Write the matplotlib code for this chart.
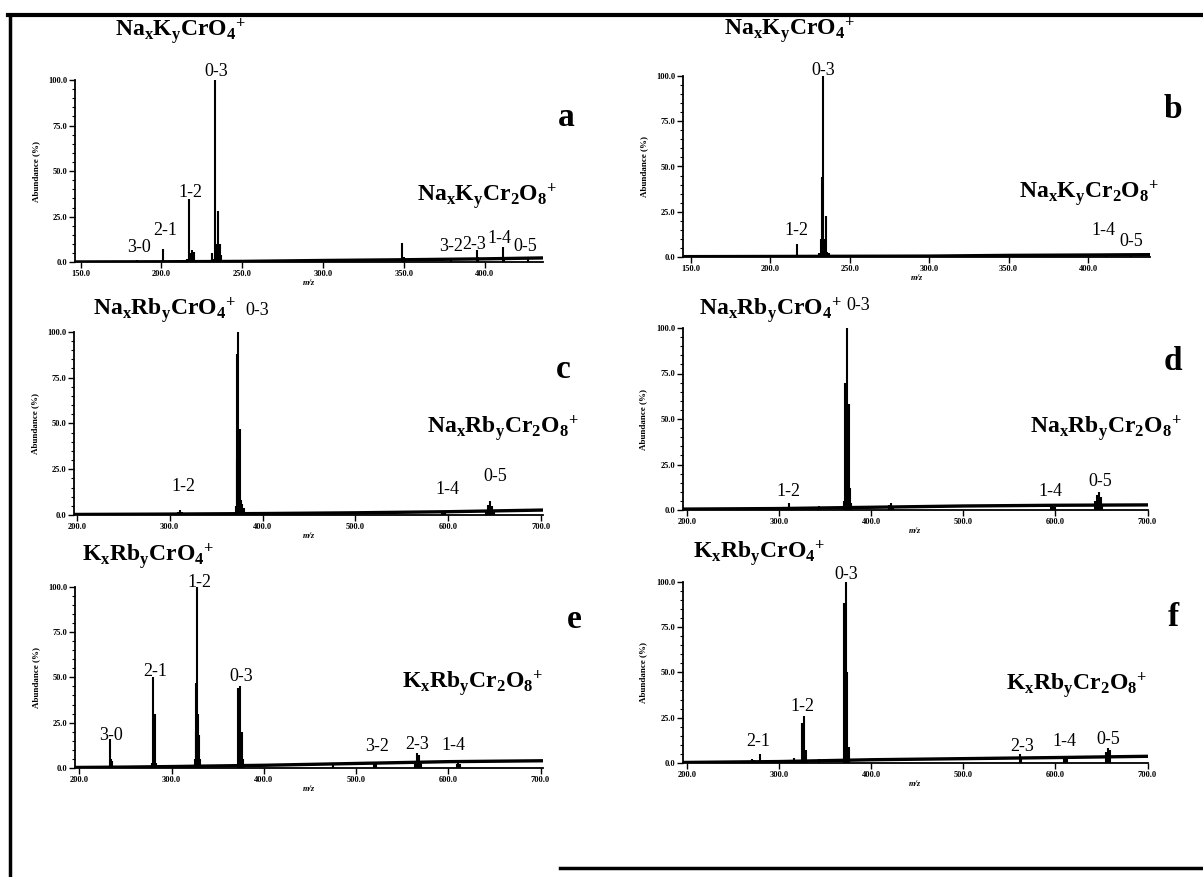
import numpy as np
import matplotlib
matplotlib.use("Agg")
import matplotlib.pyplot as plt
from matplotlib.lines import Line2D
from matplotlib.ticker import MultipleLocator, AutoMinorLocator, FormatStrFormatter

plt.rcParams['font.family'] = ['Liberation Serif', 'DejaVu Serif']
plt.rcParams['mathtext.fontset'] = 'custom'
plt.rcParams['mathtext.rm'] = 'Liberation Serif:bold'
plt.rcParams['mathtext.it'] = 'Liberation Serif:bold'
plt.rcParams['mathtext.bf'] = 'Liberation Serif:bold'

W, H = 1203, 877

# ---- данные: пики (m/z, относительная интенсивность %) ----
# a: NaxKyCrO4+ (спектр 1)
a_mz = [185, 201, 215, 216, 217, 218, 219, 220, 231, 232, 233, 234, 235, 236, 237,
        349, 350, 379, 395, 396, 411, 412, 427]
a_int = [1.0, 7.5, 1.5, 2.0, 34.5, 5.0, 7.0, 5.5, 5.0, 2.0, 100, 10, 28, 10, 4,
         10.8, 3.0, 1.5, 6.8, 3.0, 8.2, 3.0, 2.0]
a_base_mz = [146.5, 200, 250, 300, 350, 400, 436]
a_base = [0.2, 0.3, 0.5, 1.0, 1.4, 1.9, 2.4]

# b: NaxKyCrO4+ (спектр 2)
b_mz = [217, 218, 219, 231, 232, 232.7, 233, 234, 235, 236, 237, 411, 427]
b_int = [7.4, 1.0, 1.2, 2.0, 10, 44, 100, 10, 22.4, 3.0, 2.0, 1.0, 1.0]
b_base_mz = [145.3, 200, 250, 300, 350, 400, 439]
b_base = [0.2, 0.3, 0.4, 0.5, 0.9, 1.1, 1.3]

# c: NaxRbyCrO4+
c_mz = [309, 311, 313, 371, 372, 373, 374, 375, 376, 377, 378, 380,
        593, 595, 597, 641, 643, 645, 647, 649]
c_int = [1.5, 2.5, 1.5, 5, 88, 30, 100, 20, 47, 8, 6, 4,
         1.5, 2.0, 1.5, 3.0, 5.5, 7.5, 5.0, 2.5]
c_base_mz = [197, 300, 400, 500, 600, 702]
c_base = [0.3, 0.5, 0.8, 1.2, 1.8, 2.7]

# d: NaxRbyCrO4+
d_mz = [310, 312, 343, 370, 371, 372, 374, 375, 376, 377, 378,
        419, 421, 423, 595, 597, 599, 643, 645, 647, 649, 651]
d_int = [4.0, 1.5, 2.0, 5, 70, 20, 100, 30, 58, 12, 4,
         3.0, 4.0, 1.5, 2.0, 2.5, 1.5, 5, 8, 10, 7, 3]
d_base_mz = [195, 300, 400, 500, 600, 700.5]
d_base = [0.5, 0.8, 1.5, 2.2, 2.6, 2.8]

# e: KxRbyCrO4+
e_mz = [233, 234, 235, 279, 280, 281, 282, 283, 325, 326, 327, 328, 329, 330, 331,
        372, 373, 374, 375, 376, 377, 475, 520, 521, 522, 564, 566, 568, 570,
        609, 611, 613]
e_int = [16, 5, 4, 3, 50, 3, 30, 3, 5, 47, 20, 100, 30, 18, 5,
         44, 30, 45, 20, 20, 5, 1.5, 2.5, 3.0, 2.0, 4, 8, 7, 3,
         2.0, 3.0, 2.0]
e_base_mz = [195.3, 250, 300, 400, 450, 500, 600, 702.7]
e_base = [0.3, 0.5, 0.8, 1.5, 2.0, 2.5, 3.5, 4.0]

# f: KxRbyCrO4+
f_mz = [270, 272, 279, 316, 325, 327, 329, 343, 370, 372, 374, 376,
        561, 563, 609, 611, 613, 655, 657, 659]
f_int = [2.0, 1.5, 5.0, 3.0, 22, 26, 7, 2.0, 88, 100, 50, 9,
         5.0, 3.0, 2.5, 4.0, 2.0, 6, 8, 7]
f_base_mz = [195, 300, 400, 500, 600, 700.5]
f_base = [0.3, 0.8, 1.8, 2.4, 3.0, 3.7]

# подписи пиков (x-y)
a_lab = ["3-0", "2-1", "1-2", "0-3", "3-2", "2-3", "1-4", "0-5"]
a_lab_mz = [186, 202.3, 217.7, 233.7, 379.2, 393.4, 408.8, 424.9]
a_lab_y = [8.2, 17.7, 38.2, 104.5, 8.6, 9.5, 13.2, 8.6]

b_lab = ["1-2", "0-3", "1-4", "0-5"]
b_lab_mz = [216.4, 233.2, 409.8, 427.5]
b_lab_y = [14.9, 103.3, 14.9, 8.5]

c_lab = ["1-2", "0-3", "1-4", "0-5"]
c_lab_mz = [314.8, 394.3, 599.1, 650.8]
c_lab_y = [15.4, 111.8, 14.0, 20.9]

d_lab = ["1-2", "0-3", "1-4", "0-5"]
d_lab_mz = [310.1, 385.4, 594.7, 649.0]
d_lab_y = [10.0, 112.6, 10.0, 15.6]

e_lab = ["3-0", "2-1", "1-2", "0-3", "3-2", "2-3", "1-4"]
e_lab_mz = [234.4, 282.0, 329.8, 375.4, 522.4, 566.4, 605.5]
e_lab_y = [18.2, 53.1, 102.5, 50.4, 11.7, 12.7, 12.3]

f_lab = ["2-1", "1-2", "0-3", "2-3", "1-4", "0-5"]
f_lab_mz = [277.5, 324.7, 372.9, 563.3, 609.4, 657.5]
f_lab_y = [11.7, 31.0, 103.7, 9.0, 11.7, 12.7]

mono = r"$\mathrm{%s_{x}%s_{y}CrO_{4}{}^{+}}$"
dimer = r"$\mathrm{%s_{x}%s_{y}Cr_{2}O_{8}{}^{+}}$"

# панели: (данные, пиксельная рамка осей left, right, top, bottom, пределы x, шаг тиков)
panels = [
    dict(letter="a", mz=a_mz, inten=a_int, bmz=a_base_mz, base=a_base,
         lab=a_lab, lmz=a_lab_mz, ly=a_lab_y, box=(75, 543, 80, 262.3),
         xlim=(146.5, 436), step=50, pair=("Na", "K"),
         tpos=(180, 32), dpos=(487, 197), lpos=(566, 117)),
    dict(letter="b", mz=b_mz, inten=b_int, bmz=b_base_mz, base=b_base,
         lab=b_lab, lmz=b_lab_mz, ly=b_lab_y, box=(683.3, 1150, 76, 257),
         xlim=(145.3, 439), step=50, pair=("Na", "K"),
         tpos=(789, 31), dpos=(1089, 194), lpos=(1173, 110)),
    dict(letter="c", mz=c_mz, inten=c_int, bmz=c_base_mz, base=c_base,
         lab=c_lab, lmz=c_lab_mz, ly=c_lab_y, box=(74, 543, 331.7, 515),
         xlim=(197, 702), step=100, pair=("Na", "Rb"),
         tpos=(164, 311), dpos=(503, 429), lpos=(563, 370)),
    dict(letter="d", mz=d_mz, inten=d_int, bmz=d_base_mz, base=d_base,
         lab=d_lab, lmz=d_lab_mz, ly=d_lab_y, box=(682.7, 1148, 328, 510),
         xlim=(195, 700.5), step=100, pair=("Na", "Rb"),
         tpos=(770, 311), dpos=(1106, 429), lpos=(1173, 362)),
    dict(letter="e", mz=e_mz, inten=e_int, bmz=e_base_mz, base=e_base,
         lab=e_lab, lmz=e_lab_mz, ly=e_lab_y, box=(75, 543, 586.7, 768),
         xlim=(195.3, 702.7), step=100, pair=("K", "Rb"),
         tpos=(148, 557), dpos=(473, 684), lpos=(574, 620)),
    dict(letter="f", mz=f_mz, inten=f_int, bmz=f_base_mz, base=f_base,
         lab=f_lab, lmz=f_lab_mz, ly=f_lab_y, box=(682.7, 1148, 581.7, 763),
         xlim=(195, 700.5), step=100, pair=("K", "Rb"),
         tpos=(759, 554), dpos=(1077, 686), lpos=(1173, 618)),
]

fig = plt.figure(figsize=(W / 100, H / 100), dpi=100)
fig.patch.set_facecolor("white")


def px(x, y):
    return x / W, 1 - y / H


for p in panels:
    l, r, t, b = p["box"]
    ax = fig.add_axes([l / W, 1 - b / H, (r - l) / W, (b - t) / H])
    ax.set_xlim(*p["xlim"])
    ax.set_ylim(0, 100)
    ax.set_facecolor("none")
    for s in ("top", "right"):
        ax.spines[s].set_visible(False)
    for s in ("left", "bottom"):
        ax.spines[s].set_linewidth(1.3)

    # базовая линия и пики
    ax.plot(p["bmz"], p["base"], color="black", lw=2.4, solid_capstyle="butt")
    ax.vlines(p["mz"], 0, p["inten"], color="black", lw=1.5)

    for txt, x, y in zip(p["lab"], p["lmz"], p["ly"]):
        ax.text(x, y, txt, ha="center", va="center", fontsize=13,
                clip_on=False)

    ax.yaxis.set_major_locator(MultipleLocator(25))
    ax.yaxis.set_minor_locator(AutoMinorLocator(5))
    ax.yaxis.set_major_formatter(FormatStrFormatter("%.1f"))
    first = np.ceil(p["xlim"][0] / p["step"]) * p["step"]
    ax.set_xticks(np.arange(first, p["xlim"][1] + 1, p["step"]))
    ax.xaxis.set_major_formatter(FormatStrFormatter("%.1f"))
    ax.tick_params(axis="both", which="major", direction="out", length=4,
                   width=1.0, labelsize=6, pad=1.5)
    ax.tick_params(axis="y", which="minor", direction="out", length=2.5,
                   width=0.8)
    for lab in ax.get_xticklabels() + ax.get_yticklabels():
        lab.set_fontweight("bold")
    ax.set_ylabel("Abundance (%)", fontsize=6.5, fontweight="bold", labelpad=6)
    ax.set_xlabel("m/z", fontsize=6, fontweight="bold", style="italic",
                  labelpad=1)

    m1, m2 = p["pair"]
    fig.text(*px(*p["tpos"]), mono % (m1, m2), fontsize=17,
             ha="center", va="center")
    fig.text(*px(*p["dpos"]), dimer % (m1, m2), fontsize=17,
             ha="center", va="center")
    fig.text(*px(*p["lpos"]), p["letter"], fontsize=24, fontweight="bold",
             ha="center", va="center")

# рамка сканированного рисунка
fig.add_artist(Line2D([8 / W, 1], [1 - 15 / H] * 2, color="black", lw=3))
fig.add_artist(Line2D([9.6 / W] * 2, [1 - 15 / H, 0], color="black", lw=2.5))
fig.add_artist(Line2D([560 / W, 1], [1 - 868 / H] * 2, color="black", lw=2.5))

fig.savefig("out.png", dpi=100, facecolor="white")
